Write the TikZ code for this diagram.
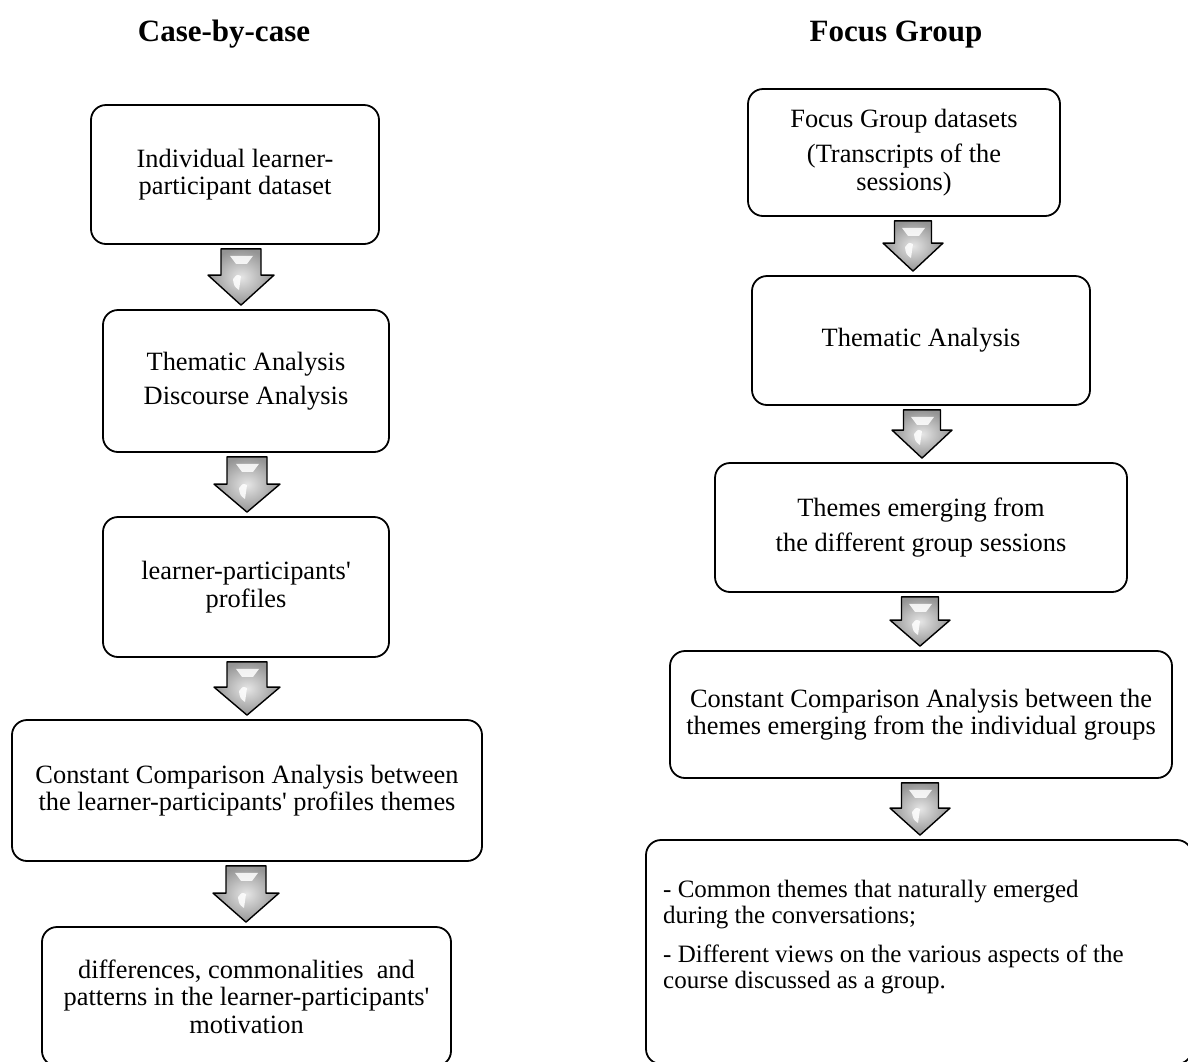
\documentclass[tikz,border=0pt]{standalone}
\usepackage{fontspec}
\setmainfont{Liberation Serif}[Ligatures=TeXOff]
\usetikzlibrary{calc}

% block arrow from node #1 to node #2, centred at x=#3,
% half head width #4, half shaft width #5, head height #6
\newcommand\FlowArrow[6]{%
  \draw[arrowbody] let \p1=(#1.south), \p2=(#2.north) in
    (#3pt-#5pt,\y1-4pt) -- (#3pt+#5pt,\y1-4pt) -- (#3pt+#5pt,\y2+4pt+#6pt)
    -- (#3pt+#4pt,\y2+4pt+#6pt) -- (#3pt,\y2+4pt) -- (#3pt-#4pt,\y2+4pt+#6pt)
    -- (#3pt-#5pt,\y2+4pt+#6pt) -- cycle;
  \fill[glint] let \p1=(#1.south) in
    (#3pt-11pt,\y1-11pt) -- (#3pt+12pt,\y1-11pt)
    -- (#3pt+6pt,\y1-19pt) -- (#3pt-5pt,\y1-19pt) -- cycle;
  \fill[glint] let \p2=(#2.north) in
    (#3pt-8pt,\y2+4pt+#6pt-4pt) .. controls (#3pt-4pt,\y2+4pt+#6pt+1pt) ..
    (#3pt,\y2+4pt+#6pt-1pt) -- (#3pt-2pt,\y2+4pt+#6pt-15pt)
    .. controls (#3pt-7pt,\y2+4pt+#6pt-11pt) .. cycle;
}

\begin{document}
\begin{tikzpicture}[x=1pt,y=-1pt,
  box/.style={draw=black, line width=1.8pt, rounded corners=15pt, fill=white,
    align=center, inner sep=0pt, font=\fontsize{26.4}{27.5}\selectfont},
  heading/.style={font=\fontsize{31}{34}\selectfont\bfseries, inner sep=0pt, anchor=base},
  listtext/.style={font=\fontsize{25}{25.5}\selectfont, align=left, inner sep=0pt, anchor=north west},
  arrowbody/.style={draw=black, line width=1.4pt, line join=round,
    inner color=black!10, outer color=black!42},
  glint/.style={fill=white, opacity=0.85}
]
\useasboundingbox (0,0) rectangle (1188,1061);
\clip (0,0) rectangle (1188,1061);

% column headings
\node[heading] (hcase) at (224,41) {Case-by-case};
\node[heading] (hfocus) at (896,41) {Focus Group};

% case-by-case column
\node[box, minimum width=288pt, minimum height=139pt] (l1) at (235,174.5)
  {Individual learner-\\participant dataset};
\node[box, minimum width=286pt, minimum height=142pt] (l2) at (246,381)
  {Thematic Analysis\\[7pt]Discourse Analysis};
\node[box, minimum width=286pt, minimum height=140pt] (l3) at (246,587)
  {learner-participants'\\profiles};
\node[box, minimum width=470pt, minimum height=141pt] (l4) at (247,790.5)
  {Constant Comparison Analysis between\\the learner-participants' profiles themes};
\node[box, minimum width=409pt, minimum height=139pt] (l5) at (246.5,996.5)
  {differences, commonalities\ \ and\\patterns in the learner-participants'\\motivation};

% focus group column
\node[box, minimum width=312pt, minimum height=127pt] (r1) at (904,152.5)
  {Focus Group datasets\\[8pt](Transcripts of the\\sessions)};
\node[box, minimum width=338pt, minimum height=129pt] (r2) at (921,340.5)
  {Thematic Analysis};
\node[box, minimum width=412pt, minimum height=129pt] (r3) at (921,527.5)
  {Themes emerging from\\[8pt]the different group sessions};
\node[box, minimum width=502pt, minimum height=127pt] (r4) at (921,714.5)
  {Constant Comparison Analysis between the\\themes emerging from the individual groups};
\node[box, minimum width=546pt, minimum height=224pt] (r5) at (919,952) {};
\node[listtext] (r5t) at (663,880)
  {- Common themes that naturally emerged\\during the conversations;\\[14pt]%
   - Different views on the various aspects of the\\course discussed as a group.};

% block arrows between the steps
\FlowArrow{l1}{l2}{241}{33}{20}{30}
\FlowArrow{l2}{l3}{247}{33}{20}{28}
\FlowArrow{l3}{l4}{247}{33}{20}{28}
\FlowArrow{l4}{l5}{246}{33}{20}{29}
\FlowArrow{r1}{r2}{913}{30}{18.5}{28}
\FlowArrow{r2}{r3}{922}{30}{18.5}{28}
\FlowArrow{r3}{r4}{920}{30}{18.5}{26}
\FlowArrow{r4}{r5}{920}{30}{18.5}{27}
\end{tikzpicture}
\end{document}
